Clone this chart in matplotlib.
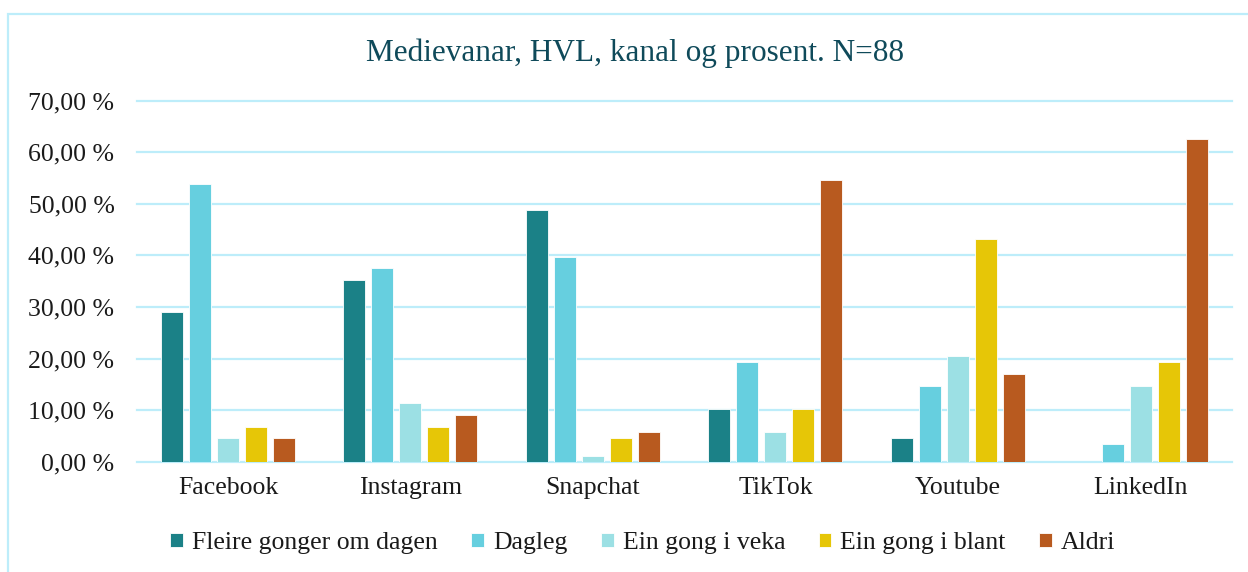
import matplotlib
matplotlib.use("Agg")
import matplotlib.pyplot as plt
import numpy as np
from matplotlib.patches import Rectangle
from matplotlib.ticker import FuncFormatter

# Data (percent of respondents, N=88)
channels = ["Facebook", "Instagram", "Snapchat", "TikTok", "Youtube", "LinkedIn"]
series_names = ["Fleire gonger om dagen", "Dagleg", "Ein gong i veka",
                "Ein gong i blant", "Aldri"]
fleire_gonger = [29.0, 35.23, 48.86, 10.23, 4.55, 0.0]
dagleg = [53.9, 37.5, 39.77, 19.32, 14.77, 3.41]
ein_gong_veka = [4.55, 11.36, 1.14, 5.68, 20.45, 14.77]
ein_gong_blant = [6.82, 6.82, 4.55, 10.23, 43.18, 19.32]
aldri = [4.55, 9.09, 5.68, 54.55, 17.05, 62.5]

colors = ["#1b8187", "#66cfdf", "#9ce0e4", "#e6c607", "#b85a1f"]
grid_color = "#bdedfa"
font = "Liberation Serif"

plt.rcParams["font.family"] = [font, "DejaVu Serif"]

fig = plt.figure(figsize=(12.48, 5.72), dpi=100)
ax = fig.add_axes([0.1095, 0.1928, 0.8775, 0.6312])

values = [fleire_gonger, dagleg, ein_gong_veka, ein_gong_blant, aldri]
x = np.arange(len(channels))
step = 0.1534
width = 0.1205
for i, (name, vals) in enumerate(zip(series_names, values)):
    ax.bar(x + (i - 2) * step, vals, width=width, color=colors[i],
           edgecolor="white", linewidth=0.6, label=name, zorder=3)

ax.set_xlim(-0.5, len(channels) - 0.5)
ax.set_ylim(0, 70)
ax.set_yticks(np.arange(0, 71, 10))
ax.yaxis.set_major_formatter(FuncFormatter(lambda v, p: f"{v:.2f} %".replace(".", ",")))
ax.set_xticks(x)
ax.set_xticklabels(channels)
ax.tick_params(axis="both", length=0, labelsize=18.5, colors="#1a1a1a")
ax.tick_params(axis="y", pad=16)
ax.tick_params(axis="x", pad=11)
ax.yaxis.grid(True, color=grid_color, linewidth=1.6, zorder=0)
ax.set_axisbelow(True)
for spine in ax.spines.values():
    spine.set_visible(False)

fig.text(0.509, 0.907, "Medievanar, HVL, kanal og prosent. N=88",
         ha="center", va="center", fontsize=22.5, color="#0f4a5a")

leg = fig.legend(loc="center", bbox_to_anchor=(0.515, 1 - 543 / 572), ncol=5,
                 frameon=False, prop={"family": [font, "DejaVu Serif"], "size": 18.5},
                 handlelength=0.5, handleheight=0.5,
                 handletextpad=0.35, columnspacing=1.3)
for t in leg.get_texts():
    t.set_color("#1a1a1a")

# light border around the chart area
fig.patches.append(Rectangle((8 / 1248, -0.1), 1.2, 1.1 - 14 / 572,
                             transform=fig.transFigure, fill=False,
                             edgecolor=grid_color, linewidth=1.6))

fig.canvas.draw()
for line in ax.get_ygridlines():
    line.set_clip_on(False)

fig.savefig("out.png", dpi=100)
